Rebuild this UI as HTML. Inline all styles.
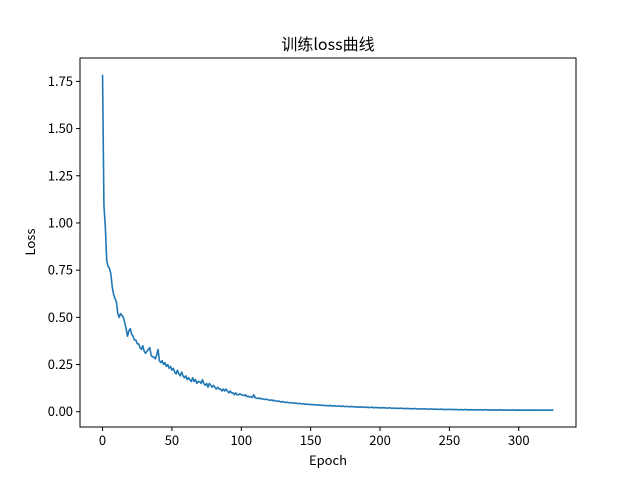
<!DOCTYPE html>
<html><head><meta charset="utf-8"><style>
body{margin:0;background:#fff}
svg text{font-family:"WenQuanYi Zen Hei","Noto Sans CJK SC",sans-serif;fill:#000}
</style></head><body>
<svg id="chart" width="640" height="480" xmlns="http://www.w3.org/2000/svg">
<rect width="640" height="480" fill="#fff"/>
<text x="328" y="50" font-size="16" text-anchor="middle">训练loss曲线</text>
<text x="328" y="465" font-size="13" text-anchor="middle">Epoch</text>
<text x="0" y="0" font-size="13" text-anchor="middle" transform="translate(35,242) rotate(-90)">Loss</text>
<g id="ticks"></g>
<path id="line" fill="none" stroke="#1f77b4" stroke-width="1.6" stroke-linejoin="round"/>
<rect x="80" y="58" width="496" height="369" fill="none" stroke="#000" stroke-width="1"/>
</svg>
<script>
const xTicks=[0,50,100,150,200,250,300];
const yTicks=[0,0.25,0.5,0.75,1.0,1.25,1.5,1.75];
const yTickLabels=["0.00","0.25","0.50","0.75","1.00","1.25","1.50","1.75"];
const loss=[1.785,1.09,0.98,0.80,0.77,0.76,0.73,0.66,0.62,0.60,
0.58,0.52,0.50,0.52,0.51,0.50,0.47,0.44,0.40,0.43,
0.44,0.41,0.40,0.38,0.38,0.36,0.36,0.34,0.33,0.35,
0.32,0.31,0.32,0.33,0.34,0.30,0.29,0.29,0.28,0.30,
0.33,0.27,0.26,0.27,0.25,0.26,0.24,0.25,0.23,0.24,
0.22,0.23,0.21,0.20,0.22,0.20,0.19,0.21,0.19,0.18,
0.19,0.17,0.18,0.17,0.16,0.18,0.16,0.17,0.15,0.16,
0.16,0.15,0.17,0.15,0.14,0.15,0.13,0.15,0.14,0.13,
0.14,0.13,0.12,0.13,0.12,0.12,0.11,0.12,0.11,0.12,
0.11,0.10,0.11,0.10,0.10,0.09,0.10,0.09,0.09,0.095,
0.09,0.088,0.085,0.09,0.08,0.082,0.078,0.08,0.075,0.09,
0.074,0.072,0.07,0.073,0.068,0.07,0.066,0.065,0.067,0.064,
0.062,0.06,0.063,0.058,0.06,0.056,0.055,0.057,0.053,0.052,
0.054,0.05,0.049,0.051,0.048,0.047,0.049,0.046,0.045,0.047,
0.044,0.043,0.045,0.042,0.041,0.043,0.04,0.039,0.041,0.038,
0.039,0.037,0.038,0.036,0.037,0.035,0.036,0.034,0.035,0.033,
0.034,0.032,0.033,0.031,0.034,0.031,0.030,0.032,0.030,0.029,
0.031,0.029,0.028,0.030,0.028,0.027,0.029,0.027,0.026,0.028,
0.026,0.027,0.025,0.026,0.024,0.025,0.026,0.024,0.023,0.025,
0.023,0.024,0.022,0.023,0.024,0.022,0.021,0.023,0.021,0.022,
0.021,0.020,0.022,0.020,0.021,0.019,0.020,0.021,0.019,0.018,
0.020,0.018,0.019,0.017,0.018,0.019,0.017,0.018,0.016,0.017,
0.018,0.016,0.017,0.015,0.016,0.017,0.015,0.016,0.014,0.016,
0.015,0.014,0.016,0.014,0.015,0.013,0.014,0.015,0.013,0.014,
0.013,0.014,0.012,0.013,0.014,0.012,0.013,0.012,0.011,0.013,
0.012,0.011,0.013,0.011,0.012,0.011,0.012,0.010,0.012,0.011,
0.010,0.012,0.011,0.010,0.011,0.010,0.011,0.010,0.009,0.011,
0.010,0.009,0.011,0.010,0.009,0.010,0.011,0.009,0.010,0.009,
0.010,0.009,0.010,0.009,0.008,0.010,0.009,0.010,0.009,0.008,
0.009,0.010,0.008,0.009,0.008,0.009,0.010,0.008,0.009,0.008,
0.009,0.008,0.009,0.008,0.009,0.008,0.008,0.009,0.008,0.009,
0.008,0.009,0.008,0.008,0.009,0.008,0.008,0.009,0.008,0.008,
0.009,0.008,0.008,0.009,0.008,0.009];
const L=80,R=576,T=58,B=427;
const n=loss.length-1;
const xmin=-0.05*n,xmax=n*1.05;
const ymn=Math.min(...loss),ymx=Math.max(...loss),yr=ymx-ymn;
const y0=ymn-0.05*yr,y1=ymx+0.05*yr;
const xs=v=>L+(v-xmin)/(xmax-xmin)*(R-L);
const ys=v=>B-(v-y0)/(y1-y0)*(B-T);
let d="";
loss.forEach((v,i)=>{d+=(i?"L":"M")+xs(i).toFixed(2)+" "+ys(v).toFixed(2);});
document.getElementById("line").setAttribute("d",d);
const g=document.getElementById("ticks");
const NS="http://www.w3.org/2000/svg";
xTicks.forEach(t=>{
 const x=xs(t);
 const ln=document.createElementNS(NS,"line");
 
 
 ln.setAttribute("x1",x);ln.setAttribute("x2",x);ln.setAttribute("y1",B);ln.setAttribute("y2",B+4);ln.setAttribute("stroke","#000");
 g.appendChild(ln);
 const tx=document.createElementNS(NS,"text");
 
 
 tx.setAttribute("x",x);tx.setAttribute("y",B+18);tx.setAttribute("font-size","13");tx.setAttribute("text-anchor","middle");
 tx.textContent=t;g.appendChild(tx);
});
yTicks.forEach((t,i)=>{
 const y=ys(t);
 const ln=document.createElementNS(NS,"line");
 
 
 ln.setAttribute("x1",L-4);ln.setAttribute("x2",L);ln.setAttribute("y1",y);ln.setAttribute("y2",y);ln.setAttribute("stroke","#000");
 g.appendChild(ln);
 const tx=document.createElementNS(NS,"text");
 
 
 tx.setAttribute("x",L-7);tx.setAttribute("y",y+4.5);tx.setAttribute("font-size","13");tx.setAttribute("text-anchor","end");
 tx.textContent=yTickLabels[i];g.appendChild(tx);
});
</script>
</body></html>
